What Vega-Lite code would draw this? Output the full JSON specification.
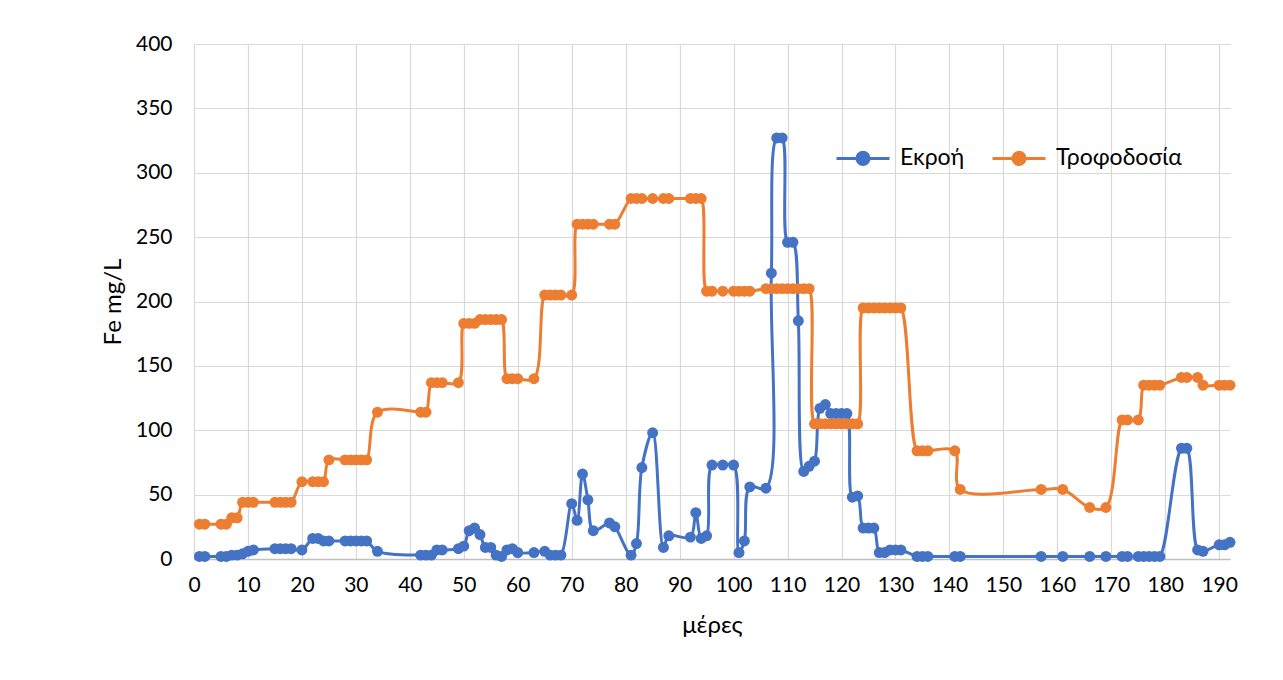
{
  "$schema": "https://vega.github.io/schema/vega-lite/v6.json",
  "autosize": "none",
  "width": 1036,
  "height": 515,
  "padding": {"left": 194, "top": 44, "right": 53, "bottom": 121},
  "background": "white",
  "config": {
    "font": "Lato",
    "view": {"stroke": null},
    "axis": {
      "labelFont": "Lato",
      "labelFontSize": 21,
      "labelColor": "#000000",
      "titleFont": "Lato",
      "titleFontSize": 24,
      "titleFontWeight": "normal",
      "titleColor": "#000000",
      "gridColor": "#d9d9d9",
      "gridWidth": 1.2,
      "ticks": false
    },
    "legend": {
      "orient": "none",
      "legendX": 641,
      "legendY": 86,
      "direction": "horizontal",
      "title": null,
      "labelFont": "Lato",
      "labelFontSize": 23,
      "labelColor": "#000000",
      "labelOffset": 9,
      "columnPadding": 21,
      "symbolType": "M-1,0L1,0M-0.23,0A0.23,0.23,0,1,1,0.23,0A0.23,0.23,0,1,1,-0.23,0Z",
      "symbolSize": 2809,
      "symbolStrokeWidth": 3,
      "symbolOpacity": 1
    }
  },
  "datasets": {
    "ekroi": [
      {"d": 1, "fe": 2}, {"d": 2, "fe": 2}, {"d": 5, "fe": 2}, {"d": 6, "fe": 2}, {"d": 7, "fe": 3},
      {"d": 8, "fe": 3}, {"d": 9, "fe": 4}, {"d": 10, "fe": 6}, {"d": 11, "fe": 7}, {"d": 15, "fe": 8},
      {"d": 16, "fe": 8}, {"d": 17, "fe": 8}, {"d": 18, "fe": 8}, {"d": 20, "fe": 7}, {"d": 22, "fe": 16},
      {"d": 23, "fe": 16}, {"d": 24, "fe": 14}, {"d": 25, "fe": 14}, {"d": 28, "fe": 14}, {"d": 29, "fe": 14},
      {"d": 30, "fe": 14}, {"d": 31, "fe": 14}, {"d": 32, "fe": 14}, {"d": 34, "fe": 6}, {"d": 42, "fe": 3},
      {"d": 43, "fe": 3}, {"d": 44, "fe": 3}, {"d": 45, "fe": 7}, {"d": 46, "fe": 7}, {"d": 49, "fe": 8},
      {"d": 50, "fe": 10}, {"d": 51, "fe": 22}, {"d": 52, "fe": 24}, {"d": 53, "fe": 19}, {"d": 54, "fe": 9},
      {"d": 55, "fe": 9}, {"d": 56, "fe": 3}, {"d": 57, "fe": 2}, {"d": 58, "fe": 7}, {"d": 59, "fe": 8},
      {"d": 60, "fe": 5}, {"d": 63, "fe": 5}, {"d": 65, "fe": 6}, {"d": 66, "fe": 3}, {"d": 67, "fe": 3},
      {"d": 68, "fe": 3}, {"d": 70, "fe": 43}, {"d": 71, "fe": 30}, {"d": 72, "fe": 66}, {"d": 73, "fe": 46},
      {"d": 74, "fe": 22}, {"d": 77, "fe": 28}, {"d": 78, "fe": 25}, {"d": 81, "fe": 3}, {"d": 82, "fe": 12},
      {"d": 83, "fe": 71}, {"d": 85, "fe": 98}, {"d": 87, "fe": 9}, {"d": 88, "fe": 18}, {"d": 92, "fe": 17},
      {"d": 93, "fe": 36}, {"d": 94, "fe": 16}, {"d": 95, "fe": 18}, {"d": 96, "fe": 73}, {"d": 98, "fe": 73},
      {"d": 100, "fe": 73}, {"d": 101, "fe": 5}, {"d": 102, "fe": 14}, {"d": 103, "fe": 56}, {"d": 106, "fe": 55},
      {"d": 107, "fe": 222}, {"d": 108, "fe": 327}, {"d": 109, "fe": 327}, {"d": 110, "fe": 246}, {"d": 111, "fe": 246},
      {"d": 112, "fe": 185}, {"d": 113, "fe": 68}, {"d": 114, "fe": 72}, {"d": 115, "fe": 76}, {"d": 116, "fe": 117},
      {"d": 117, "fe": 120}, {"d": 118, "fe": 113}, {"d": 119, "fe": 113}, {"d": 120, "fe": 113}, {"d": 121, "fe": 113},
      {"d": 122, "fe": 48}, {"d": 123, "fe": 49}, {"d": 124, "fe": 24}, {"d": 125, "fe": 24}, {"d": 126, "fe": 24},
      {"d": 127, "fe": 5}, {"d": 128, "fe": 5}, {"d": 129, "fe": 7}, {"d": 130, "fe": 7}, {"d": 131, "fe": 7},
      {"d": 134, "fe": 2}, {"d": 135, "fe": 2}, {"d": 136, "fe": 2}, {"d": 141, "fe": 2}, {"d": 142, "fe": 2},
      {"d": 157, "fe": 2}, {"d": 161, "fe": 2}, {"d": 166, "fe": 2}, {"d": 169, "fe": 2}, {"d": 172, "fe": 2},
      {"d": 173, "fe": 2}, {"d": 175, "fe": 2}, {"d": 176, "fe": 2}, {"d": 177, "fe": 2}, {"d": 178, "fe": 2},
      {"d": 179, "fe": 2}, {"d": 183, "fe": 86}, {"d": 184, "fe": 86}, {"d": 186, "fe": 7}, {"d": 187, "fe": 6},
      {"d": 190, "fe": 11}, {"d": 191, "fe": 11}, {"d": 192, "fe": 13}
    ],
    "trofodosia": [
      {"d": 1, "fe": 27}, {"d": 2, "fe": 27}, {"d": 5, "fe": 27}, {"d": 6, "fe": 27}, {"d": 7, "fe": 32},
      {"d": 8, "fe": 32}, {"d": 9, "fe": 44}, {"d": 10, "fe": 44}, {"d": 11, "fe": 44}, {"d": 15, "fe": 44},
      {"d": 16, "fe": 44}, {"d": 17, "fe": 44}, {"d": 18, "fe": 44}, {"d": 20, "fe": 60}, {"d": 22, "fe": 60},
      {"d": 23, "fe": 60}, {"d": 24, "fe": 60}, {"d": 25, "fe": 77}, {"d": 28, "fe": 77}, {"d": 29, "fe": 77},
      {"d": 30, "fe": 77}, {"d": 31, "fe": 77}, {"d": 32, "fe": 77}, {"d": 34, "fe": 114}, {"d": 42, "fe": 114},
      {"d": 43, "fe": 114}, {"d": 44, "fe": 137}, {"d": 45, "fe": 137}, {"d": 46, "fe": 137}, {"d": 49, "fe": 137},
      {"d": 50, "fe": 183}, {"d": 51, "fe": 183}, {"d": 52, "fe": 183}, {"d": 53, "fe": 186}, {"d": 54, "fe": 186},
      {"d": 55, "fe": 186}, {"d": 56, "fe": 186}, {"d": 57, "fe": 186}, {"d": 58, "fe": 140}, {"d": 59, "fe": 140},
      {"d": 60, "fe": 140}, {"d": 63, "fe": 140}, {"d": 65, "fe": 205}, {"d": 66, "fe": 205}, {"d": 67, "fe": 205},
      {"d": 68, "fe": 205}, {"d": 70, "fe": 205}, {"d": 71, "fe": 260}, {"d": 72, "fe": 260}, {"d": 73, "fe": 260},
      {"d": 74, "fe": 260}, {"d": 77, "fe": 260}, {"d": 78, "fe": 260}, {"d": 81, "fe": 280}, {"d": 82, "fe": 280},
      {"d": 83, "fe": 280}, {"d": 85, "fe": 280}, {"d": 87, "fe": 280}, {"d": 88, "fe": 280}, {"d": 92, "fe": 280},
      {"d": 93, "fe": 280}, {"d": 94, "fe": 280}, {"d": 95, "fe": 208}, {"d": 96, "fe": 208}, {"d": 98, "fe": 208},
      {"d": 100, "fe": 208}, {"d": 101, "fe": 208}, {"d": 102, "fe": 208}, {"d": 103, "fe": 208}, {"d": 106, "fe": 210},
      {"d": 107, "fe": 210}, {"d": 108, "fe": 210}, {"d": 109, "fe": 210}, {"d": 110, "fe": 210}, {"d": 111, "fe": 210},
      {"d": 112, "fe": 210}, {"d": 113, "fe": 210}, {"d": 114, "fe": 210}, {"d": 115, "fe": 105}, {"d": 116, "fe": 105},
      {"d": 117, "fe": 105}, {"d": 118, "fe": 105}, {"d": 119, "fe": 105}, {"d": 120, "fe": 105}, {"d": 121, "fe": 105},
      {"d": 122, "fe": 105}, {"d": 123, "fe": 105}, {"d": 124, "fe": 195}, {"d": 125, "fe": 195}, {"d": 126, "fe": 195},
      {"d": 127, "fe": 195}, {"d": 128, "fe": 195}, {"d": 129, "fe": 195}, {"d": 130, "fe": 195}, {"d": 131, "fe": 195},
      {"d": 134, "fe": 84}, {"d": 135, "fe": 84}, {"d": 136, "fe": 84}, {"d": 141, "fe": 84}, {"d": 142, "fe": 54},
      {"d": 157, "fe": 54}, {"d": 161, "fe": 54}, {"d": 166, "fe": 40}, {"d": 169, "fe": 40}, {"d": 172, "fe": 108},
      {"d": 173, "fe": 108}, {"d": 175, "fe": 108}, {"d": 176, "fe": 135}, {"d": 177, "fe": 135}, {"d": 178, "fe": 135},
      {"d": 179, "fe": 135}, {"d": 183, "fe": 141}, {"d": 184, "fe": 141}, {"d": 186, "fe": 141}, {"d": 187, "fe": 135},
      {"d": 190, "fe": 135}, {"d": 191, "fe": 135}, {"d": 192, "fe": 135}
    ]
  },
  "encoding": {
    "x": {
      "field": "d",
      "type": "quantitative",
      "scale": {"domain": [0, 192], "nice": false, "zero": false},
      "axis": {
        "title": "μέρες",
        "values": [0, 10, 20, 30, 40, 50, 60, 70, 80, 90, 100, 110, 120, 130, 140, 150, 160, 170, 180, 190],
        "labelPadding": 15,
        "titlePadding": 18,
        "domain": true,
        "domainColor": "#bfbfbf",
        "domainWidth": 1.6,
        "labelFlush": false
      }
    },
    "y": {
      "field": "fe",
      "type": "quantitative",
      "scale": {"domain": [0, 400], "nice": false},
      "axis": {
        "title": "Fe mg/L",
        "values": [0, 50, 100, 150, 200, 250, 300, 350, 400],
        "domain": false,
        "labelPadding": 22,
        "titlePadding": 10
      }
    }
  },
  "layer": [
    {
      "data": {"name": "ekroi"},
      "mark": {"type": "line", "strokeWidth": 3, "interpolate": "catmull-rom"},
      "encoding": {
        "color": {
          "datum": "Εκροή",
          "type": "nominal",
          "scale": {"domain": ["Εκροή", "Τροφοδοσία"], "range": ["#4472c4", "#ed7d31"]},
          "legend": {
            "encode": {
              "symbols": {"update": {"fill": {"scale": "color", "field": "value"}, "stroke": {"scale": "color", "field": "value"}}}
            }
          }
        }
      }
    },
    {
      "data": {"name": "ekroi"},
      "mark": {"type": "point", "filled": true, "opacity": 1, "size": 120},
      "encoding": {"color": {"datum": "Εκροή", "type": "nominal"}}
    },
    {
      "data": {"name": "trofodosia"},
      "mark": {"type": "line", "strokeWidth": 3, "interpolate": "catmull-rom"},
      "encoding": {"color": {"datum": "Τροφοδοσία", "type": "nominal"}}
    },
    {
      "data": {"name": "trofodosia"},
      "mark": {"type": "point", "filled": true, "opacity": 1, "size": 120},
      "encoding": {"color": {"datum": "Τροφοδοσία", "type": "nominal"}}
    }
  ]
}
